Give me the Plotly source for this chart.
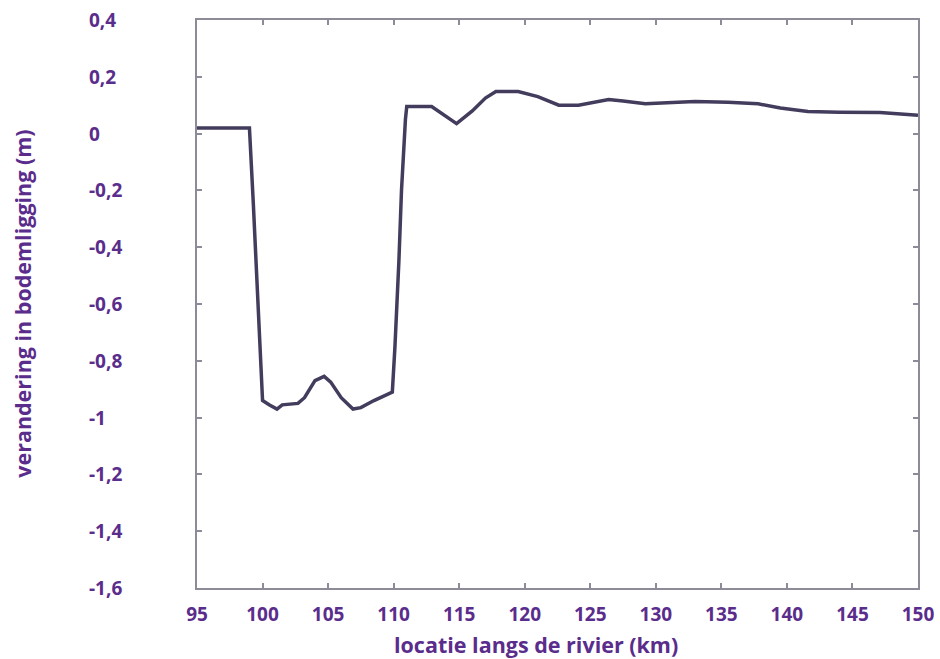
import plotly.graph_objects as go

km = [95.0, 99.0, 99.3, 99.6, 99.8, 100.0, 100.5, 101.1, 101.5, 102.7, 103.2, 104.0, 104.7, 105.2,
      106.0, 106.9, 107.5, 108.5, 109.9, 110.1, 110.4, 110.6, 110.9, 111.0, 112.9, 114.0, 114.8,
      116.0, 117.0, 117.8, 119.5, 121.0, 122.6, 124.1, 125.5, 126.4, 127.5, 129.2, 131.7, 133.0,
      135.5, 137.8, 139.5, 141.6, 144.0, 147.1, 150.0]
dz = [0.02, 0.02, -0.25, -0.55, -0.75, -0.94, -0.955, -0.97, -0.955, -0.95, -0.93, -0.87, -0.855, -0.875,
      -0.93, -0.97, -0.965, -0.94, -0.91, -0.75, -0.45, -0.2, 0.05, 0.095, 0.095, 0.06, 0.035,
      0.08, 0.125, 0.148, 0.148, 0.13, 0.10, 0.10, 0.112, 0.12, 0.115, 0.105, 0.11, 0.113,
      0.11, 0.105, 0.09, 0.078, 0.075, 0.074, 0.065]

x_ticks = [95, 100, 105, 110, 115, 120, 125, 130, 135, 140, 145, 150]
y_ticks = [0.4, 0.2, 0, -0.2, -0.4, -0.6, -0.8, -1, -1.2, -1.4, -1.6]
y_tick_labels = ["0,4", "0,2", "0", "-0,2", "-0,4", "-0,6", "-0,8", "-1", "-1,2", "-1,4", "-1,6"]

purple = "#5a2d8c"
font_fam = "Open Sans"

fig = go.Figure()
fig.add_trace(go.Scatter(x=km, y=dz, mode="lines",
                         line=dict(color="#433c5c", width=3.5), showlegend=False))

axis_common = dict(showgrid=False, zeroline=False, showline=True, linecolor="#8c8c98",
                   linewidth=2, mirror="ticks", ticks="inside", ticklen=5,
                   tickcolor="#8c8c98", tickwidth=1.5, automargin=False)

fig.update_xaxes(range=[95, 150], tickvals=x_ticks, ticktext=[str(v) for v in x_ticks],
                 tickfont=dict(family=font_fam, size=19, color=purple, weight="bold"),
                 ticklabelstandoff=8, ticklabeloverflow="allow", **axis_common)
fig.update_yaxes(range=[-1.6, 0.4], tickvals=y_ticks, showticklabels=False, **axis_common)

for v, t in zip(y_ticks, y_tick_labels):
    fig.add_annotation(x=-0.152, xref="paper", y=v, yref="y", text=t, showarrow=False,
                       xanchor="left", yanchor="middle",
                       font=dict(family=font_fam, size=19, color=purple, weight="bold"))

fig.add_annotation(x=-0.243, xref="paper", y=0.5, yref="paper",
                   text="verandering in bodemligging (m)", textangle=-90, showarrow=False,
                   xanchor="center", yanchor="middle",
                   font=dict(family=font_fam, size=21.5, color=purple, weight="bold"))
fig.add_annotation(x=0.47, xref="paper", y=-0.1, yref="paper",
                   text="locatie langs de rivier (km)", showarrow=False,
                   xanchor="center", yanchor="middle",
                   font=dict(family=font_fam, size=21.5, color=purple, weight="bold"))

fig.update_layout(width=940, height=659, margin=dict(l=197, r=22, t=20, b=71),
                  plot_bgcolor="white", paper_bgcolor="white")

fig.write_html("out.html", config={"displayModeBar": False},
               post_script="document.body.style.margin='0';document.body.style.overflow='hidden';")
